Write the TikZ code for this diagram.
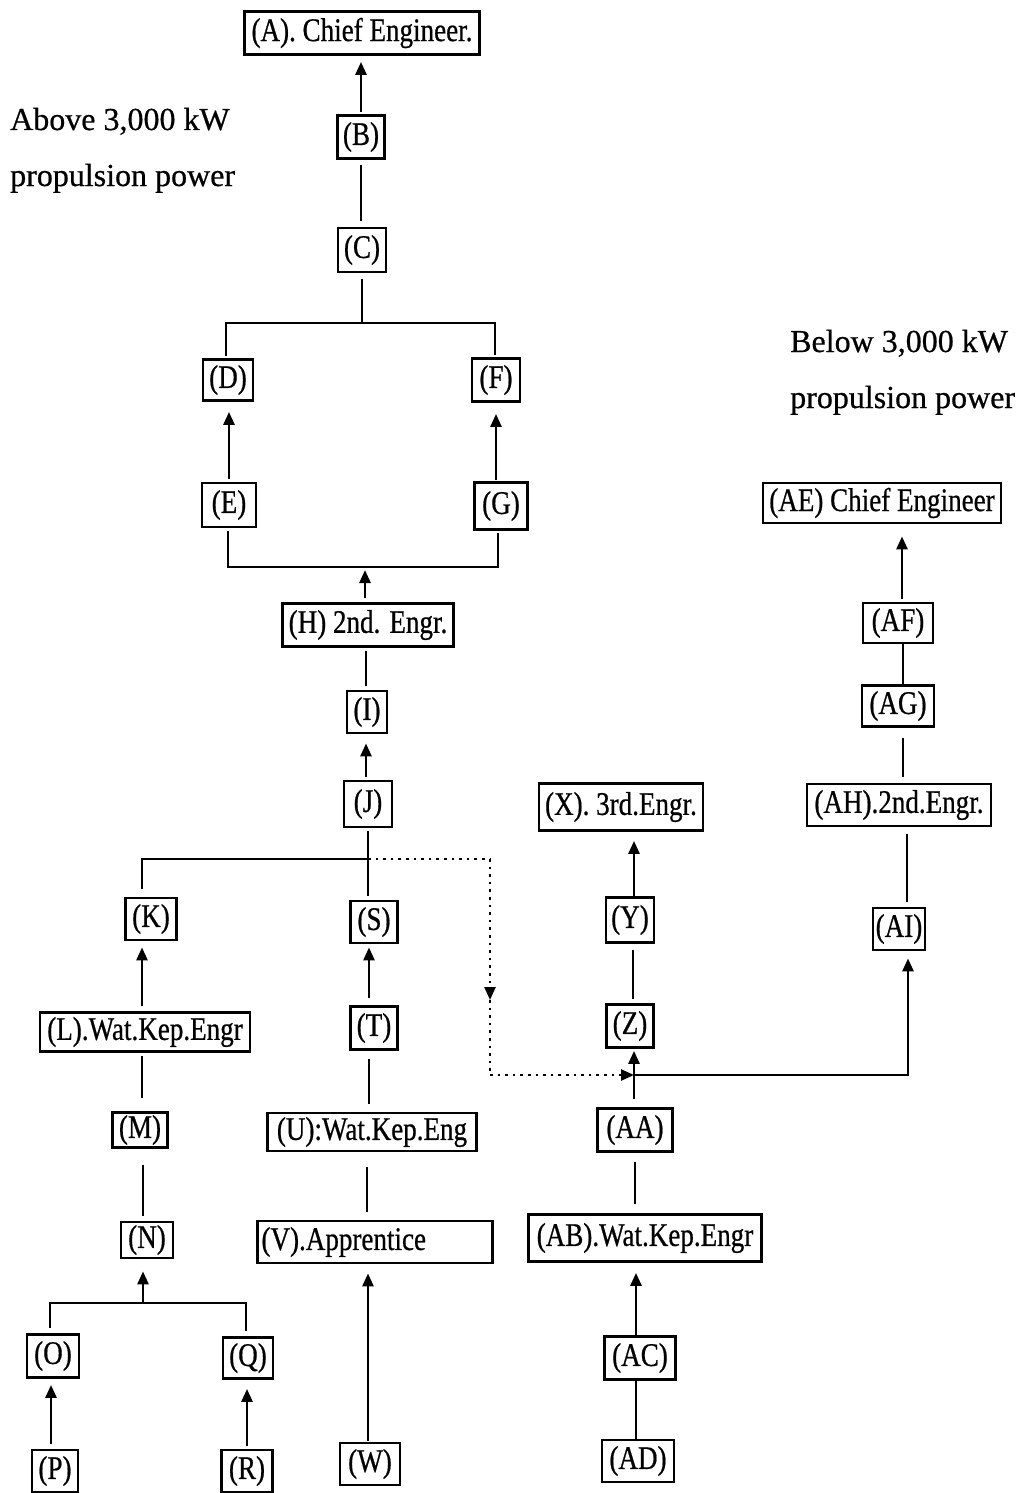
\documentclass[tikz,border=0pt]{standalone}
\usepackage{fontspec}
\setmainfont{Liberation Serif}[FakeBold=0.6]
\newfontfamily\bxfont{Liberation Serif}[FakeStretch=0.82,FakeBold=0.6]
\usetikzlibrary{arrows.meta}
\begin{document}
\begin{tikzpicture}[x=1pt,y=-1pt,
 bx/.style={draw, line width=2.8pt, inner sep=0pt, font=\bxfont\fontsize{33}{36}\selectfont},
 ln/.style={line width=2.7pt},
 arr/.style={ln, -{Triangle[width=11pt,length=13pt]}},
 dotline/.style={line width=2.4pt, dash pattern=on 2.6pt off 5pt},
 lbl/.style={anchor=base west, inner sep=0pt, font=\fontsize{32}{36}\selectfont}]
\useasboundingbox (0,0) rectangle (1022,1493);

% side labels
\node[lbl] (above1) at (10,130) {Above 3,000 kW};
\node[lbl] (above2) at (10,186) {propulsion power};
\node[lbl] (below1) at (790,352) {Below 3,000 kW};
\node[lbl] (below2) at (790,408) {propulsion power};

% boxes
\node[bx,minimum width=235,minimum height=43] (A) at (362,33) {(A). Chief Engineer.};
\node[bx,minimum width=47,minimum height=43] (B) at (361,137) {(B)};
\node[bx,minimum width=48,minimum height=44] (C) at (362,250) {(C)};
\node[bx,minimum width=50,minimum height=41] (D) at (228,380) {(D)};
\node[bx,minimum width=48,minimum height=43] (F) at (496,380) {(F)};
\node[bx,minimum width=54,minimum height=44] (E) at (229,505) {(E)};
\node[bx,minimum width=53,minimum height=47] (G) at (501,506) {(G)};
\node[bx,minimum width=171,minimum height=43] (H) at (368,625) {(H) 2nd. Engr.};
\node[bx,minimum width=40,minimum height=42] (I) at (367,712) {(I)};
\node[bx,minimum width=48,minimum height=46] (J) at (368,804) {(J)};
\node[bx,minimum width=51,minimum height=42] (K) at (151,919) {(K)};
\node[bx,minimum width=47,minimum height=42] (S) at (374,922) {(S)};
\node[bx,minimum width=47,minimum height=43] (T) at (374,1028) {(T)};
\node[bx,minimum width=210,minimum height=39] (L) at (145,1032) {(L).Wat.Kep.Engr};
\node[bx,minimum width=55,minimum height=35] (M) at (140,1130) {(M)};
\node[bx,minimum width=52,minimum height=36] (N) at (147,1240) {(N)};
\node[bx,minimum width=52,minimum height=43] (O) at (53,1356) {(O)};
\node[bx,minimum width=50,minimum height=41] (Q) at (248,1358) {(Q)};
\node[bx,minimum width=46,minimum height=42] (P) at (55,1471) {(P)};
\node[bx,minimum width=51,minimum height=42] (R) at (247,1471) {(R)};
\node[bx,minimum width=209,minimum height=38] (U) at (372,1132) {(U):Wat.Kep.Eng};
\node[bx,minimum width=235,minimum height=42,text width=227,align=left] (V) at (375,1242) {(V).Apprentice};
\node[bx,minimum width=60,minimum height=42] (W) at (370,1464) {(W)};
\node[bx,minimum width=164,minimum height=47] (X) at (621,807) {(X). 3rd.Engr.};
\node[bx,minimum width=48,minimum height=45] (Y) at (630,920) {(Y)};
\node[bx,minimum width=47,minimum height=43] (Z) at (630,1026) {(Z)};
\node[bx,minimum width=75,minimum height=43] (AA) at (635,1130) {(AA)};
\node[bx,minimum width=233,minimum height=47] (AB) at (645,1238) {(AB).Wat.Kep.Engr};
\node[bx,minimum width=71,minimum height=43] (AC) at (640,1358) {(AC)};
\node[bx,minimum width=72,minimum height=42] (AD) at (638,1461) {(AD)};
\node[bx,minimum width=238,minimum height=40] (AE) at (882,503) {(AE) Chief Engineer};
\node[bx,minimum width=70,minimum height=40] (AF) at (898,623) {(AF)};
\node[bx,minimum width=72,minimum height=41] (AG) at (898,706) {(AG)};
\node[bx,minimum width=184,minimum height=42] (AH) at (899,805) {(AH).2nd.Engr.};
\node[bx,minimum width=52,minimum height=42] (AI) at (899,929) {(AI)};

% junction coordinates
\coordinate (dfbar) at (362,323);
\coordinate (egbar) at (365,567);
\coordinate (junc) at (368,859);
\coordinate (dtop) at (490,859);
\coordinate (dmid) at (490,1000);
\coordinate (dbot) at (490,1075);
\coordinate (merge) at (634,1075);
\coordinate (onbar) at (143,1303);

% upper left tree
\draw[arr, shorten <=2pt, shorten >=6pt] (B.north) -- (B.north |- A.south);
\draw[ln, shorten <=5pt, shorten >=6pt] (B.south) -- (B.south |- C.north);
\draw[ln, shorten <=6pt] (C.south) -- (dfbar);
\draw[ln] ([xshift=-2pt,yshift=2pt]D.north) |- (dfbar) -| ([xshift=-1pt,yshift=2pt]F.north);
\draw[arr, shorten <=3pt, shorten >=10pt] (E.north) -- (E.north |- D.south);
\draw[arr, shorten <=1pt, shorten >=11pt] ([xshift=-5pt]G.north) -- ([xshift=-5pt]G.north |- F.south);
\draw[ln] ([xshift=-1pt,yshift=-3pt]E.south) |- (egbar) -| ([xshift=-3pt,yshift=-2pt]G.south);
\draw[arr, shorten <=4pt, shorten >=3pt] ([xshift=-3pt]H.north) -- ([xshift=-3pt]H.north |- egbar);
\draw[ln, shorten <=3pt, shorten >=4pt] ([xshift=-2pt]H.south) -- ([xshift=-2pt]H.south |- I.north);
\draw[arr, shorten <=3pt, shorten >=9pt] ([xshift=-2pt]J.north) -- ([xshift=-2pt]J.north |- I.south);

% middle branch
\draw[ln, shorten <=3pt] (J.south) -- (junc);
\draw[ln, shorten >=4pt] (junc) -- (junc |- S.north);
\draw[ln] (junc) -| ([xshift=-9pt,yshift=8pt]K.north);
\draw[dotline] (junc) -- (dtop);
\draw[dotline, -{Triangle[width=11pt,length=13pt]}] (dtop) -- (dmid);
\draw[dotline] (dmid) -- (dbot);
\draw[dotline, -{Triangle[width=11pt,length=13pt]}] (dbot) -- (merge);
\draw[arr, shorten <=7pt, shorten >=3pt] ([xshift=-5pt]T.north) -- ([xshift=-5pt]T.north |- S.south);
\draw[ln, shorten <=8pt, shorten >=8pt] ([xshift=-5pt]T.south) -- ([xshift=-5pt]T.south |- U.north);
\draw[ln, shorten <=15pt, shorten >=8pt] ([xshift=-5pt]U.south) -- ([xshift=-5pt]U.south |- V.north);
\draw[arr, shorten <=1pt, shorten >=9pt] ([xshift=-2pt]W.north) -- ([xshift=-2pt]W.north |- V.south);

% left branch
\draw[arr, shorten <=5pt, shorten >=6pt] ([xshift=-3pt]L.north) -- ([xshift=-3pt]L.north |- K.south);
\draw[ln, shorten <=3pt, shorten >=13pt] ([xshift=-3pt]L.south) -- ([xshift=-3pt]L.south |- M.north);
\draw[ln, shorten <=16pt, shorten >=5pt] ([xshift=3pt]M.south) -- ([xshift=3pt]M.south |- N.north);
\draw[arr, shorten >=12pt] (onbar) -- (onbar |- N.south);
\draw[ln] ([xshift=-3pt,yshift=5pt]O.north) |- (onbar) -| ([xshift=-2pt,yshift=5pt]Q.north);
\draw[arr, shorten <=5pt, shorten >=6pt] ([xshift=-4pt]P.north) -- ([xshift=-4pt]P.north |- O.south);
\draw[arr, shorten <=3pt, shorten >=9pt] (R.north) -- (R.north |- Q.south);

% third engineer column
\draw[arr, shorten >=9pt] ([xshift=4pt]Y.north) -- ([xshift=4pt]Y.north |- X.south);
\draw[ln, shorten <=6pt, shorten >=4pt] ([xshift=3pt]Y.south) -- ([xshift=3pt]Y.south |- Z.north);
\draw[arr, shorten <=8pt, shorten >=2pt] ([xshift=-1pt]AA.north) -- ([xshift=-1pt]AA.north |- Z.south);
\draw[arr, shorten >=7pt] (merge) -| ([xshift=9pt]AI.south);
\draw[ln, shorten <=9pt, shorten >=9pt] (AA.south) -- (AA.south |- AB.north);
\draw[arr, shorten >=10pt] ([xshift=-4pt]AC.north) -- ([xshift=-4pt]AC.north |- AB.south);
\draw[ln] ([xshift=-4pt]AC.south) -- ([xshift=-4pt]AC.south |- AD.north);

% right column
\draw[arr, shorten <=3pt, shorten >=12pt] ([xshift=4pt]AF.north) -- ([xshift=4pt]AF.north |- AE.south);
\draw[ln] ([xshift=5pt]AF.south) -- ([xshift=5pt]AF.south |- AG.north);
\draw[ln, shorten <=10pt, shorten >=6pt] ([xshift=5pt]AG.south) -- ([xshift=5pt]AG.south |- AH.north);
\draw[ln, shorten <=7pt, shorten >=5pt] ([xshift=8pt]AH.south) -- ([xshift=8pt]AH.south |- AI.north);
\end{tikzpicture}
\end{document}
